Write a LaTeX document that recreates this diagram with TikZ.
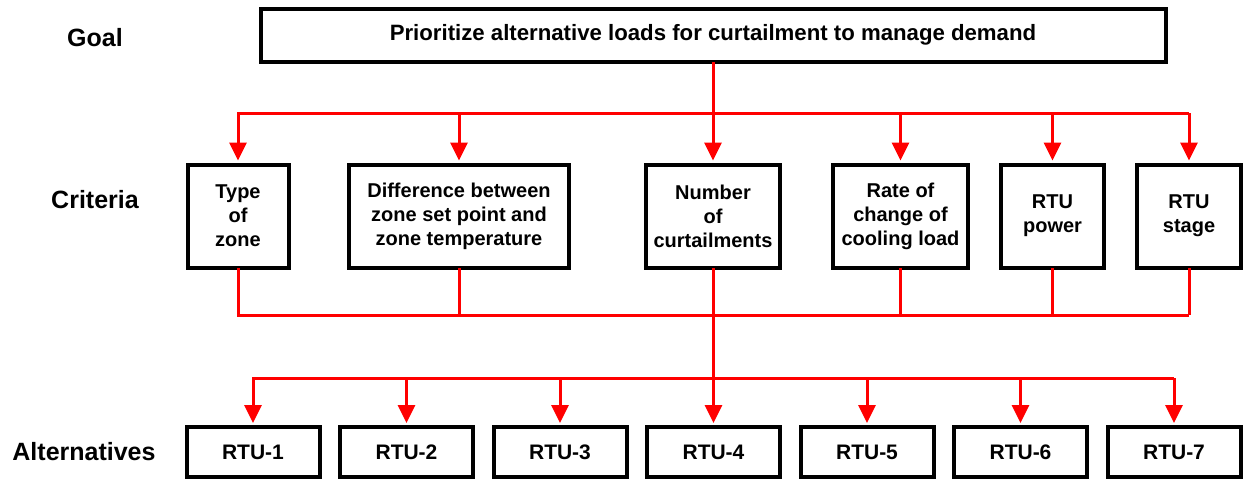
\documentclass[tikz,border=0pt]{standalone}
\usepackage{fontspec}
\setmainfont{Liberation Sans}
\usepackage{xcolor}
\usetikzlibrary{arrows.meta, positioning}

\tikzset{
  box/.style={draw, line width=2pt, fill=white, align=center, inner sep=2pt},
  goalbox/.style={box, minimum width=452.5pt, minimum height=26.5pt, font=\fontsize{11.1}{13}\selectfont\bfseries},
  crit/.style={box, minimum height=51.5pt, font=\fontsize{10}{12}\selectfont\bfseries},
  alt/.style={box, minimum width=66.5pt, minimum height=25pt, font=\fontsize{10.5}{12.6}\selectfont\bfseries},
  level/.style={font=\fontsize{12.5}{15}\selectfont\bfseries},
  link/.style={red, line width=1.5pt, line cap=rect},
  arrow/.style={red, line width=1.5pt, -{Triangle[width=8.5pt, length=9pt]}},
}

\begin{document}
\begin{tikzpicture}[x=0.5pt, y=-0.5pt, shorten >=1pt]
        \useasboundingbox (0,0) rectangle (1247,483);

        % levels
        \node[level] (lgoal) at (95,38)  {Goal};
        \node[level] (lcrit) at (95,200) {Criteria};
        \node[level] (lalt)  at (84,452) {Alternatives};

        \node[goalbox] (goal) at (713,35) {Prioritize alternative loads for curtailment to manage demand};

        \node[crit, minimum width=50.5pt] (c1) at (238,216)    {Type\\of\\zone};
        \node[crit, minimum width=110pt]  (c2) at (459,216)    {Difference between\\zone set point and\\zone temperature};
        \node[crit, minimum width=67pt]   (c3) at (713,216)    {Number\\of\\curtailments};
        \node[crit, minimum width=67.5pt] (c4) at (900.5,216)  {Rate of\\change of\\cooling load};
        \node[crit, minimum width=51.5pt] (c5) at (1052.5,216) {RTU\\power};
        \node[crit, minimum width=52pt]   (c6) at (1189,216)   {RTU\\stage};

        \foreach \i in {1,...,7}
            \node[alt] (r\i) at ({99.5+153.5*\i},452) {RTU-\i};

        \coordinate (top) at (713,113);
        \coordinate (mid) at (713,315);
        \coordinate (low) at (713,378);

        % goal -> criteria
        \draw[link] (goal.south) -- (top);
        \draw[link] (top -| c1) -- (top -| c6);
        \foreach \c in {c1,c2,c3,c4,c5,c6}
            \draw[arrow] (top -| \c) -- (\c.north);

        % criteria -> alternatives
        \foreach \c in {c1,c2,c3,c4,c5,c6}
            \draw[link] (\c.south) -- (mid -| \c);
        \draw[link] (mid -| c1) -- (mid -| c6);
        \draw[link] (mid) -- (low);
        \draw[link] (low -| r1) -- (low -| r7);
        \foreach \i in {1,...,7}
            \draw[arrow] (low -| r\i) -- (r\i.north);

\end{tikzpicture}
\end{document}
